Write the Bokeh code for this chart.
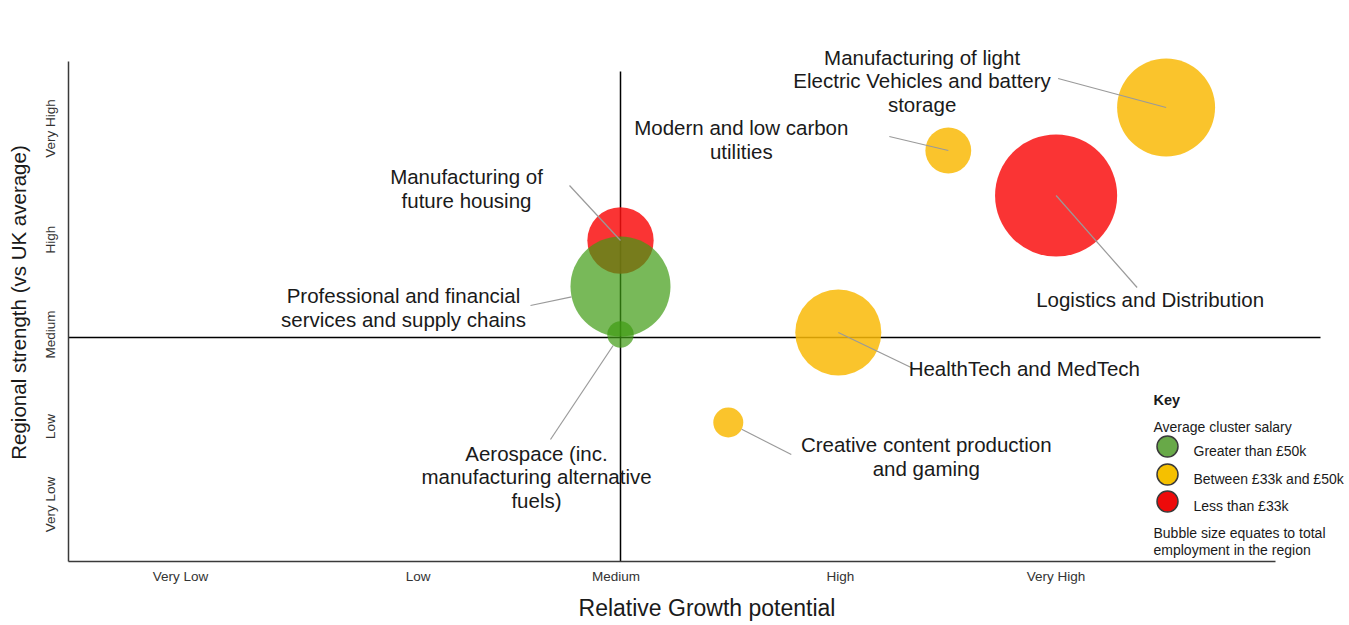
import numpy as np
from bokeh.plotting import figure
from bokeh.models import ColumnDataSource, LabelSet, Label, FixedTicker, Range1d
from bokeh.core.properties import value
from bokeh.embed import file_html
from bokeh.resources import INLINE

# ---------------- data ----------------
clusters = [
    "Manufacturing of light\nElectric Vehicles and battery\nstorage",
    "Modern and low carbon\nutilities",
    "Logistics and Distribution",
    "Manufacturing of\nfuture housing",
    "Professional and financial\nservices and supply chains",
    "Aerospace (inc.\nmanufacturing alternative\nfuels)",
    "HealthTech and MedTech",
    "Creative content production\nand gaming",
]
growth = [5.48, 4.49, 4.98, 3.0, 3.0, 3.0, 3.99, 3.49]          # relative growth potential
strength = [5.30, 4.87, 4.42, 3.97, 3.51, 3.03, 3.05, 2.15]     # regional strength
employment = [96, 21, 149, 44, 100, 7, 74, 9]                   # relative employment (bubble size)
salary_band = ["mid", "mid", "low", "low", "high", "high", "mid", "mid"]

x_ticks = [1.0, 2.08, 2.98, 4.0, 4.98]
x_tick_labels = ["Very Low", "Low", "Medium", "High", "Very High"]
y_ticks = [1.33, 2.11, 3.03, 3.98, 5.09]
y_tick_labels = ["Very Low", "Low", "Medium", "High", "Very High"]

band_names = ["high", "mid", "low"]
band_labels = ["Greater than £50k", "Between £33k and £50k", "Less than £33k"]
band_colors = ["#3E9B13", "#F9BA07", "#F91010"]
band_alpha = [0.7, 0.85, 0.85]
key_colors = ["#68A948", "#F5C000", "#EE0A0A"]

# label placement (screen px relative to bubble centre; +dy = downwards)
label_dx = [-244, -207, 94, -154, -217, -84, 186, 198]
label_dy = [-27, -11, 104, -52, 21, 142, 36, 34]
leader_dx = [-108, -59, 81, -51, -90, -70, 77, 63]
leader_dy = [-29, -14, 92, -55, 19, 105, 37, 32]
leader_from_edge = [False, False, False, False, True, True, False, True]
LINE_STEP = 23.5

FONT = "Liberation Sans"

# ---------------- geometry (picture pixels) ----------------
ORIGIN_X, ORIGIN_Y = 0, 1            # where the figure's corner lands in the picture
W, H = 1345, 624
BL, BR, BT, BB = 68, 0, 43, 63
PX_X = 220.0   # px per x unit
PX_Y = 100.0   # px per y unit
X3_PAGE, Y3_PAGE = 620, 338          # where the "Medium" quadrant lines sit
frame_left_page, frame_top_page = ORIGIN_X + BL, ORIGIN_Y + BT
frame_w = W - BL - BR
frame_h = H - BT - BB
x_start = 3 - (X3_PAGE - frame_left_page) / PX_X
x_end = x_start + frame_w / PX_X
y_end = 3 + (Y3_PAGE - frame_top_page) / PX_Y
y_start = y_end - frame_h / PX_Y


def page_to_x(px):
    return x_start + (px - frame_left_page) / PX_X


def page_to_y(py):
    return y_end - (py - frame_top_page) / PX_Y


p = figure(width=W, height=H, output_backend="svg", toolbar_location=None,
           x_range=Range1d(x_start, x_end), y_range=Range1d(y_start, y_end),
           min_border_left=BL, min_border_right=BR, min_border_top=BT, min_border_bottom=BB,
           background_fill_color="white", border_fill_color="white")
p.outline_line_color = None
p.grid.visible = False

# quadrant lines
p.segment([3.0, x_start], [y_start, 3.0], [3.0, page_to_x(1320)], [page_to_y(72), 3.0],
          line_color="black", line_width=1.5)

# bubbles
sizes = [10 * np.sqrt(e) for e in employment]
colors = [band_colors[band_names.index(b)] for b in salary_band]
alphas = [band_alpha[band_names.index(b)] for b in salary_band]
src = ColumnDataSource(dict(x=growth, y=strength, size=sizes, color=colors, alpha=alphas))
p.scatter("x", "y", size="size", source=src, fill_color="color", fill_alpha="alpha",
          line_color=None)

# leader lines
x0, y0, x1, y1 = [], [], [], []
for gx, gy, s, ldx, ldy, edge in zip(growth, strength, sizes, leader_dx, leader_dy, leader_from_edge):
    ex, ey = gx + ldx / PX_X, gy - ldy / PX_Y
    if edge:
        r = s / 2
        d = np.hypot(ldx, ldy)
        sx, sy = gx + (ldx / d * r) / PX_X, gy - (ldy / d * r) / PX_Y
    else:
        sx, sy = gx, gy
    x0.append(sx); y0.append(sy); x1.append(ex); y1.append(ey)
p.segment(x0, y0, x1, y1, line_color="#9A9A9A", line_width=1.2)

# labels (one entry per line so each line is centred)
lx, ly, lt, lxo, lyo = [], [], [], [], []
for name, gx, gy, dx, dy in zip(clusters, growth, strength, label_dx, label_dy):
    lines = name.split("\n")
    n = len(lines)
    for i, line in enumerate(lines):
        lx.append(gx); ly.append(gy); lt.append(line)
        lxo.append(dx)
        lyo.append(-(dy + (i - (n - 1) / 2) * LINE_STEP))
lab_src = ColumnDataSource(dict(x=lx, y=ly, text=lt, xo=lxo, yo=lyo))
p.add_layout(LabelSet(x="x", y="y", text="text", x_offset="xo", y_offset="yo", source=lab_src,
                      text_align="center", text_baseline="middle", text_font=value(FONT),
                      text_font_size="20.5px", text_color="#1a1a1a"))

# axes
for ax, ticks, labels in ((p.xaxis, x_ticks, x_tick_labels), (p.yaxis, y_ticks, y_tick_labels)):
    ax.ticker = FixedTicker(ticks=ticks)
    ax.major_label_overrides = {t: l for t, l in zip(ticks, labels)}
    ax.major_tick_line_color = None
    ax.minor_tick_line_color = None
    ax.major_tick_out = 0
    ax.major_tick_in = 0
    ax.minor_tick_out = 0
    ax.axis_line_color = "#3a3a3a"
    ax.axis_line_width = 1.5
    ax.major_label_text_font = FONT
    ax.major_label_text_font_size = "13.5px"
    ax.major_label_text_color = "#333333"
    ax.axis_label_text_font = FONT
    ax.axis_label_text_font_style = "normal"
    ax.axis_label_text_color = "#1a1a1a"

p.xaxis.bounds = (x_start, page_to_x(1275))
p.yaxis.bounds = (y_start, page_to_y(62))
p.xaxis.axis_label = "Relative Growth potential"
p.xaxis.axis_label_text_font_size = "23px"
p.xaxis.major_label_standoff = 7
p.xaxis.axis_label_standoff = 8
p.yaxis.axis_label = "Regional strength (vs UK average)"
p.yaxis.axis_label_text_font_size = "20.5px"
p.yaxis.major_label_standoff = 11
p.yaxis.axis_label_standoff = 10
p.yaxis.major_label_orientation = "vertical"

# key
KX = 1153
key_rows_py = [447, 475, 502]
p.scatter([page_to_x(KX + 14)] * 3, [page_to_y(v) for v in key_rows_py], size=21,
          fill_color=key_colors, line_color="#3a3a3a", line_width=1.5)
for lbl, py in zip(band_labels, key_rows_py):
    p.add_layout(Label(x=page_to_x(KX + 40), y=page_to_y(py + 4), text=lbl, text_font=FONT,
                       text_font_size="14px", text_color="#1a1a1a", text_baseline="middle"))
p.add_layout(Label(x=page_to_x(KX), y=page_to_y(400), text="Key", text_font=FONT,
                   text_font_size="14.5px", text_font_style="bold", text_color="#1a1a1a",
                   text_baseline="middle"))
p.add_layout(Label(x=page_to_x(KX), y=page_to_y(427), text="Average cluster salary",
                   text_font=FONT, text_font_size="14px", text_color="#1a1a1a",
                   text_baseline="middle"))
for line, py in zip(["Bubble size equates to total", "employment in the region"], [533, 550]):
    p.add_layout(Label(x=page_to_x(KX), y=page_to_y(py), text=line,
                       text_font=FONT, text_font_size="14px", text_color="#1a1a1a",
                       text_baseline="middle"))

open("out.html", "w").write(file_html(p, INLINE))
